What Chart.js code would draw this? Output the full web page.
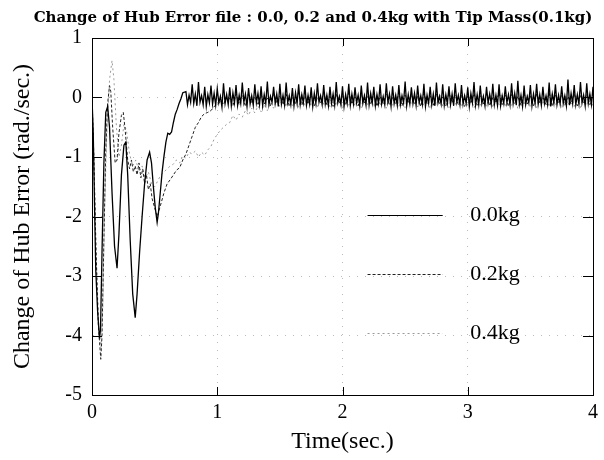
<!DOCTYPE html>
<html>
<head>
<meta charset="utf-8">
<script src="https://cdn.jsdelivr.net/npm/chart.js@4/dist/chart.umd.min.js"></script>
<style>
  body { margin: 0; background: #fff; }
  #wrap { width: 604px; height: 460px; }
</style>
</head>
<body>
<div id="wrap"><canvas id="hubChart" width="604" height="460"></canvas></div>
<script>
const chartTitle = "Change of Hub Error file : 0.0, 0.2 and 0.4kg with Tip Mass(0.1kg)";
const seriesNames = ["0.0kg", "0.2kg", "0.4kg"];
const xTicks = [0, 1, 2, 3, 4];
const yTicks = [-5, -4, -3, -2, -1, 0, 1];

// transient part (sec, rad/sec)
const time00 = [0.000, 0.010, 0.020, 0.030, 0.045, 0.060, 0.068, 0.080, 0.095, 0.110,
  0.125, 0.140, 0.160, 0.180, 0.200, 0.215, 0.235, 0.255, 0.270, 0.285,
  0.305, 0.325, 0.345, 0.360, 0.380, 0.400, 0.420, 0.440, 0.460, 0.475,
  0.490, 0.505, 0.520, 0.530, 0.545, 0.560, 0.575, 0.590, 0.605, 0.620,
  0.635, 0.650, 0.665, 0.680, 0.695, 0.710, 0.725];
const hub00 = [0.0, -0.6, -1.8, -2.9, -3.6, -4.05, -3.9, -2.6, -1.1, -0.25,
  -0.15, -0.5, -1.6, -2.5, -2.87, -2.3, -1.3, -0.8, -0.75, -1.3,
  -2.4, -3.3, -3.7, -3.3, -2.6, -2.0, -1.45, -1.05, -0.92, -1.1,
  -1.5, -1.85, -2.1, -1.95, -1.6, -1.25, -0.98, -0.75, -0.6, -0.62,
  -0.58, -0.42, -0.28, -0.2, -0.1, -0.02, 0.08];

const time02 = [0.000, 0.015, 0.030, 0.050, 0.070, 0.080, 0.095, 0.110, 0.125, 0.140,
  0.150, 0.165, 0.185, 0.200, 0.215, 0.235, 0.250, 0.265, 0.285, 0.300,
  0.315, 0.330, 0.345, 0.360, 0.375, 0.390, 0.405, 0.420, 0.435, 0.450,
  0.465, 0.480, 0.500, 0.520, 0.535, 0.555, 0.575, 0.600, 0.625, 0.650,
  0.675, 0.700, 0.725, 0.750, 0.775, 0.800, 0.825, 0.850, 0.875, 0.900,
  0.925, 0.950, 0.975, 1.000, 1.025, 1.050, 1.075];
const hub02 = [0.0, -1.0, -2.4, -3.8, -4.4, -4.0, -2.4, -0.9, -0.1, 0.2,
  0.1, -0.5, -1.1, -1.05, -0.6, -0.3, -0.25, -0.55, -1.05, -1.2,
  -1.05, -1.25, -1.15, -1.3, -1.1, -1.35, -1.2, -1.45, -1.3, -1.55,
  -1.45, -1.7, -1.85, -2.0, -1.9, -1.75, -1.6, -1.45, -1.38, -1.3,
  -1.22, -1.18, -1.05, -0.95, -0.8, -0.65, -0.5, -0.42, -0.32, -0.27,
  -0.25, -0.22, -0.15, -0.12, -0.06, -0.12, 0.02];

const time04 = [0.000, 0.015, 0.035, 0.055, 0.072, 0.085, 0.100, 0.120, 0.140, 0.160,
  0.175, 0.195, 0.215, 0.235, 0.255, 0.275, 0.300, 0.325, 0.350, 0.375,
  0.400, 0.425, 0.450, 0.475, 0.500, 0.525, 0.550, 0.575, 0.600, 0.625,
  0.650, 0.675, 0.700, 0.725, 0.750, 0.775, 0.800, 0.825, 0.850, 0.875,
  0.900, 0.925, 0.950, 0.975, 1.000, 1.025, 1.050, 1.075];
const hub04 = [0.0, -1.1, -2.8, -3.9, -4.2, -3.6, -1.9, -0.5, 0.3, 0.62,
  0.3, -0.5, -1.0, -0.8, -0.45, -0.55, -0.95, -1.15, -1.05, -1.25,
  -1.15, -1.35, -1.25, -1.45, -1.5, -1.4, -1.3, -1.25, -1.2, -1.15,
  -1.12, -1.05, -1.1, -0.98, -1.02, -0.92, -0.95, -0.9, -1.0, -0.92,
  -0.97, -0.88, -0.82, -0.7, -0.62, -0.55, -0.5, -0.45];

// steady oscillation of the 0.0kg run, fine sample times
const tFine = [0.75, 0.7625, 0.775, 0.7875, 0.8, 0.8125, 0.825, 0.8375,
  0.85, 0.8625, 0.875, 0.8875, 0.9, 0.9125, 0.925, 0.9375,
  0.95, 0.9625, 0.975, 0.9875, 1.0, 1.0125, 1.025, 1.0375,
  1.05, 1.0625, 1.075, 1.0875, 1.1, 1.1125, 1.125, 1.1375,
  1.15, 1.1625, 1.175, 1.1875, 1.2, 1.2125, 1.225, 1.2375,
  1.25, 1.2625, 1.275, 1.2875, 1.3, 1.3125, 1.325, 1.3375,
  1.35, 1.3625, 1.375, 1.3875, 1.4, 1.4125, 1.425, 1.4375,
  1.45, 1.4625, 1.475, 1.4875, 1.5, 1.5125, 1.525, 1.5375,
  1.55, 1.5625, 1.575, 1.5875, 1.6, 1.6125, 1.625, 1.6375,
  1.65, 1.6625, 1.675, 1.6875, 1.7, 1.7125, 1.725, 1.7375,
  1.75, 1.7625, 1.775, 1.7875, 1.8, 1.8125, 1.825, 1.8375,
  1.85, 1.8625, 1.875, 1.8875, 1.9, 1.9125, 1.925, 1.9375,
  1.95, 1.9625, 1.975, 1.9875, 2.0, 2.0125, 2.025, 2.0375,
  2.05, 2.0625, 2.075, 2.0875, 2.1, 2.1125, 2.125, 2.1375,
  2.15, 2.1625, 2.175, 2.1875, 2.2, 2.2125, 2.225, 2.2375,
  2.25, 2.2625, 2.275, 2.2875, 2.3, 2.3125, 2.325, 2.3375,
  2.35, 2.3625, 2.375, 2.3875, 2.4, 2.4125, 2.425, 2.4375,
  2.45, 2.4625, 2.475, 2.4875, 2.5, 2.5125, 2.525, 2.5375,
  2.55, 2.5625, 2.575, 2.5875, 2.6, 2.6125, 2.625, 2.6375,
  2.65, 2.6625, 2.675, 2.6875, 2.7, 2.7125, 2.725, 2.7375,
  2.75, 2.7625, 2.775, 2.7875, 2.8, 2.8125, 2.825, 2.8375,
  2.85, 2.8625, 2.875, 2.8875, 2.9, 2.9125, 2.925, 2.9375,
  2.95, 2.9625, 2.975, 2.9875, 3.0, 3.0125, 3.025, 3.0375,
  3.05, 3.0625, 3.075, 3.0875, 3.1, 3.1125, 3.125, 3.1375,
  3.15, 3.1625, 3.175, 3.1875, 3.2, 3.2125, 3.225, 3.2375,
  3.25, 3.2625, 3.275, 3.2875, 3.3, 3.3125, 3.325, 3.3375,
  3.35, 3.3625, 3.375, 3.3875, 3.4, 3.4125, 3.425, 3.4375,
  3.45, 3.4625, 3.475, 3.4875, 3.5, 3.5125, 3.525, 3.5375,
  3.55, 3.5625, 3.575, 3.5875, 3.6, 3.6125, 3.625, 3.6375,
  3.65, 3.6625, 3.675, 3.6875, 3.7, 3.7125, 3.725, 3.7375,
  3.75, 3.7625, 3.775, 3.7875, 3.8, 3.8125, 3.825, 3.8375,
  3.85, 3.8625, 3.875, 3.8875, 3.9, 3.9125, 3.925, 3.9375,
  3.95, 3.9625, 3.975, 3.9875, 4.0];
const steady00 = [0.10, -0.12, 0.04, -0.08, 0.22, -0.10, 0.06, -0.14,
  0.26, -0.08, 0.03, -0.12, 0.18, -0.15, 0.05, -0.09,
  0.20, -0.11, 0.07, -0.13, 0.15, -0.09, 0.02, -0.16,
  0.24, -0.10, 0.05, -0.12, 0.17, -0.14, 0.08, -0.09,
  0.21, -0.13, 0.04, -0.10, 0.25, -0.08, 0.06, -0.15,
  0.16, -0.11, 0.03, -0.13, 0.22, -0.09, 0.07, -0.12,
  0.19, -0.14, 0.05, -0.10, 0.27, -0.12, 0.02, -0.08,
  0.18, -0.10, 0.06, -0.15, 0.23, -0.11, 0.04, -0.13,
  0.25, -0.09, 0.03, -0.12, 0.16, -0.14, 0.08, -0.10,
  0.22, -0.12, 0.05, -0.09, 0.20, -0.13, 0.04, -0.11,
  0.17, -0.15, 0.07, -0.10, 0.24, -0.08, 0.03, -0.12,
  0.21, -0.11, 0.04, -0.14, 0.18, -0.10, 0.06, -0.13,
  0.26, -0.09, 0.02, -0.12, 0.19, -0.15, 0.05, -0.10,
  0.23, -0.13, 0.06, -0.11, 0.17, -0.09, 0.04, -0.14,
  0.20, -0.10, 0.03, -0.13, 0.25, -0.12, 0.07, -0.09,
  0.18, -0.14, 0.05, -0.10, 0.22, -0.11, 0.02, -0.12,
  0.24, -0.08, 0.06, -0.15, 0.19, -0.10, 0.04, -0.13,
  0.21, -0.12, 0.03, -0.09, 0.27, -0.14, 0.05, -0.11,
  0.17, -0.10, 0.07, -0.13, 0.20, -0.09, 0.03, -0.12,
  0.23, -0.15, 0.04, -0.10, 0.18, -0.12, 0.06, -0.14,
  0.25, -0.09, 0.02, -0.11, 0.22, -0.13, 0.05, -0.10,
  0.19, -0.12, 0.06, -0.14, 0.24, -0.08, 0.04, -0.12,
  0.21, -0.11, 0.03, -0.10, 0.17, -0.15, 0.07, -0.09,
  0.26, -0.13, 0.05, -0.12, 0.20, -0.10, 0.02, -0.14,
  0.18, -0.09, 0.06, -0.11, 0.23, -0.12, 0.04, -0.13,
  0.22, -0.14, 0.03, -0.10, 0.19, -0.09, 0.05, -0.12,
  0.24, -0.10, 0.07, -0.13, 0.28, -0.11, 0.04, -0.15,
  0.20, -0.12, 0.02, -0.09, 0.21, -0.14, 0.06, -0.10,
  0.23, -0.11, 0.05, -0.13, 0.18, -0.10, 0.03, -0.12,
  0.25, -0.15, 0.06, -0.09, 0.22, -0.12, 0.04, -0.11,
  0.19, -0.10, 0.03, -0.14, 0.30, -0.13, 0.07, -0.10,
  0.21, -0.12, 0.05, -0.11, 0.26, -0.09, 0.04, -0.14,
  0.24, -0.10, 0.06, -0.12, 0.18];

// steady part of the 0.2kg and 0.4kg runs, coarse sample times
const tCoarse = [1.1, 1.125, 1.15, 1.175, 1.2, 1.225, 1.25, 1.275, 1.3, 1.325,
  1.35, 1.375, 1.4, 1.425, 1.45, 1.475, 1.5, 1.525, 1.55, 1.575,
  1.6, 1.625, 1.65, 1.675, 1.7, 1.725, 1.75, 1.775, 1.8, 1.825,
  1.85, 1.875, 1.9, 1.925, 1.95, 1.975, 2.0, 2.025, 2.05, 2.075,
  2.1, 2.125, 2.15, 2.175, 2.2, 2.225, 2.25, 2.275, 2.3, 2.325,
  2.35, 2.375, 2.4, 2.425, 2.45, 2.475, 2.5, 2.525, 2.55, 2.575,
  2.6, 2.625, 2.65, 2.675, 2.7, 2.725, 2.75, 2.775, 2.8, 2.825,
  2.85, 2.875, 2.9, 2.925, 2.95, 2.975, 3.0, 3.025, 3.05, 3.075,
  3.1, 3.125, 3.15, 3.175, 3.2, 3.225, 3.25, 3.275, 3.3, 3.325,
  3.35, 3.375, 3.4, 3.425, 3.45, 3.475, 3.5, 3.525, 3.55, 3.575,
  3.6, 3.625, 3.65, 3.675, 3.7, 3.725, 3.75, 3.775, 3.8, 3.825,
  3.85, 3.875, 3.9, 3.925, 3.95, 3.975, 4.0];
const steady02 = [-0.02, -0.14, 0.06, -0.12, 0.03, -0.15, 0.08, -0.10, 0.00, -0.13,
  0.05, -0.11, -0.01, -0.14, 0.07, -0.09, 0.02, -0.12, 0.06, -0.15,
  0.01, -0.10, 0.08, -0.13, 0.03, -0.11, 0.05, -0.14, 0.00, -0.09,
  0.07, -0.12, 0.02, -0.15, 0.06, -0.10, 0.04, -0.13, 0.08, -0.11,
  0.01, -0.14, 0.05, -0.09, 0.03, -0.12, 0.07, -0.15, 0.02, -0.10,
  0.06, -0.13, 0.00, -0.11, 0.08, -0.14, 0.04, -0.09, 0.05, -0.12,
  0.02, -0.15, 0.07, -0.10, 0.03, -0.13, 0.06, -0.11, 0.01, -0.14,
  0.08, -0.09, 0.04, -0.12, 0.05, -0.15, 0.02, -0.10, 0.07, -0.13,
  0.03, -0.11, 0.06, -0.14, 0.00, -0.09, 0.08, -0.12, 0.04, -0.15,
  0.05, -0.10, 0.02, -0.13, 0.07, -0.11, 0.03, -0.14, 0.06, -0.09,
  0.01, -0.12, 0.08, -0.15, 0.04, -0.10, 0.05, -0.13, 0.02, -0.11,
  0.07, -0.14, 0.03, -0.09, 0.06, -0.12, 0.04];
const steady04 = [-0.42, -0.30, -0.38, -0.28, -0.33, -0.22, -0.30, -0.18, -0.26, -0.14,
  -0.24, -0.12, -0.22, -0.08, -0.18, -0.05, -0.15, 0.02, -0.16, 0.04,
  -0.14, 0.01, -0.17, 0.05, -0.13, 0.03, -0.15, 0.00, -0.18, 0.04,
  -0.12, 0.06, -0.16, 0.02, -0.14, 0.05, -0.19, 0.01, -0.13, 0.04,
  -0.15, 0.03, -0.17, 0.06, -0.12, 0.00, -0.16, 0.05, -0.14, 0.02,
  -0.18, 0.04, -0.13, 0.06, -0.15, 0.01, -0.17, 0.03, -0.12, 0.05,
  -0.16, 0.02, -0.14, 0.04, -0.19, 0.00, -0.13, 0.06, -0.15, 0.03,
  -0.17, 0.05, -0.12, 0.01, -0.16, 0.04, -0.14, 0.02, -0.18, 0.06,
  -0.13, 0.03, -0.15, 0.05, -0.17, 0.00, -0.12, 0.04, -0.16, 0.02,
  -0.14, 0.06, -0.19, 0.01, -0.13, 0.05, -0.15, 0.03, -0.17, 0.04,
  -0.12, 0.02, -0.16, 0.06, -0.14, 0.00, -0.18, 0.05, -0.13, 0.03,
  -0.15, 0.04, -0.17, 0.01, -0.12, 0.05, -0.14];

function toPoints(times, vals, steadyTimes, steadyVals) {
  const pts = times.map((t, i) => ({ x: t, y: vals[i] }));
  steadyTimes.forEach((t, i) => pts.push({ x: t, y: steadyVals[i] }));
  return pts;
}

const serif = "'Liberation Serif', 'Times New Roman', serif";

// box frame, inward ticks, title and the in-plot legend
const framePlugin = {
  id: "frame",
  afterDatasetsDraw(chart) {
    const { ctx, chartArea: a, scales } = chart;
    const xs = scales.x, ys = scales.y;
    ctx.save();
    ctx.strokeStyle = "#000";
    ctx.lineWidth = 1;
    ctx.strokeRect(a.left + 0.5, a.top + 0.5, a.right - a.left, a.bottom - a.top);
    ctx.beginPath();
    yTicks.forEach(v => {
      const py = Math.round(ys.getPixelForValue(v)) + 0.5;
      ctx.moveTo(a.left, py); ctx.lineTo(a.left + 10, py);
      ctx.moveTo(a.right, py); ctx.lineTo(a.right - 10, py);
    });
    xTicks.forEach(v => {
      const px = Math.round(xs.getPixelForValue(v)) + 0.5;
      ctx.moveTo(px, a.top); ctx.lineTo(px, a.top + 8);
      ctx.moveTo(px, a.bottom); ctx.lineTo(px, a.bottom - 8);
    });
    ctx.stroke();

    // title
    ctx.fillStyle = "#000";
    ctx.font = "bold 15px 'DejaVu Serif', serif";
    ctx.textAlign = "center";
    ctx.textBaseline = "middle";
    ctx.fillText(chartTitle, 313, 18);

    // legend
    const legY = [-1.97, -2.97, -3.95];
    ctx.font = "22px " + serif;
    ctx.textAlign = "left";
    chart.data.datasets.forEach((ds, i) => {
      const py = Math.round(ys.getPixelForValue(legY[i])) + 0.5;
      ctx.beginPath();
      ctx.strokeStyle = ds.borderColor;
      ctx.lineWidth = Math.min(ds.borderWidth, 1);
      ctx.setLineDash(ds.borderDash || []);
      ctx.moveTo(xs.getPixelForValue(2.2), py);
      ctx.lineTo(xs.getPixelForValue(2.8), py);
      ctx.stroke();
      ctx.setLineDash([]);
      ctx.fillStyle = "#000";
      ctx.fillText(ds.label, xs.getPixelForValue(3.02), py);
    });
    ctx.restore();
  }
};

new Chart(document.getElementById("hubChart"), {
  type: "line",
  data: {
    datasets: [
      { label: seriesNames[0], data: toPoints(time00, hub00, tFine, steady00),
        borderColor: "#000", borderWidth: 1.3, pointRadius: 0, tension: 0 },
      { label: seriesNames[1], data: toPoints(time02, hub02, tCoarse, steady02),
        borderColor: "#222", borderWidth: 1, borderDash: [3, 2], pointRadius: 0, tension: 0 },
      { label: seriesNames[2], data: toPoints(time04, hub04, tCoarse, steady04),
        borderColor: "#999", borderWidth: 1, borderDash: [2, 3], pointRadius: 0, tension: 0 }
    ]
  },
  options: {
    responsive: false,
    animation: false,
    layout: { padding: { top: 38, right: 11, left: 0, bottom: 0 } },
    plugins: {
      legend: { display: false },
      title: { display: false },
      tooltip: { enabled: false }
    },
    scales: {
      x: {
        type: "linear", min: 0, max: 4,
        afterBuildTicks: s => { s.ticks = xTicks.map(v => ({ value: v })); },
        afterFit: s => { s.height = 65; },
        grid: { color: "#bbb", drawTicks: false },
        border: { color: "#000", dash: [1, 7] },
        ticks: { color: "#000", padding: 6, font: { family: serif, size: 20 } },
        title: { display: true, text: "Time(sec.)", color: "#000",
          font: { family: serif, size: 24 }, padding: { top: 0, bottom: 4 } }
      },
      y: {
        min: -5, max: 1,
        afterBuildTicks: s => { s.ticks = yTicks.map(v => ({ value: v })); },
        afterFit: s => { s.width = 92; },
        grid: { color: "#bbb", drawTicks: false },
        border: { color: "#000", dash: [1, 7] },
        ticks: { color: "#000", padding: 10, font: { family: serif, size: 20 } },
        title: { display: true, text: "Change of Hub Error (rad./sec.)", color: "#000",
          font: { family: serif, size: 24 }, padding: { top: 8, bottom: 0 } }
      }
    }
  },
  plugins: [framePlugin]
});
</script>
</body>
</html>
